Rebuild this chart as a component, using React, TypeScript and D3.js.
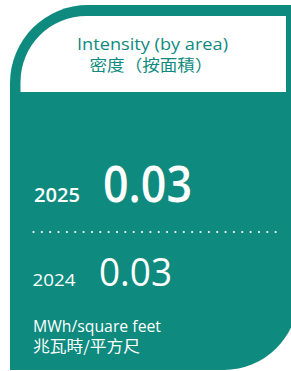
import React, { useEffect, useRef } from 'react';
import * as d3 from 'd3';

const W = 291;
const H = 371;

const titleLines = ['Intensity (by area)', '密度（按面積）'];
const years = ['2025', '2024'];
const values = [0.03, 0.03];
const unitLines = ['MWh/square feet', '兆瓦時/平方尺'];

const teal = '#0e8a7e';
const latin = '"Open Sans", "Noto Sans", sans-serif';
const cjk = '"Noto Sans CJK TC", "Noto Sans CJK SC", sans-serif';

export default function App() {
  const ref = useRef<SVGSVGElement | null>(null);

  useEffect(() => {
    const svg = d3.select(ref.current);
    svg.selectAll('*').remove();

    // card outline: big rounded top-left, rounded bottom-right (cropped at right)
    const x0 = 10, y0 = 5, x1 = 298, y1 = 370;
    const rTL = 78, rBR = 74;
    const outer = d3.path();
    outer.moveTo(x0, y0 + rTL);
    outer.arcTo(x0, y0, x0 + rTL, y0, rTL);
    outer.lineTo(x1, y0);
    outer.lineTo(x1, y1 - rBR);
    outer.arcTo(x1, y1, x1 - rBR, y1, rBR);
    outer.lineTo(x0, y1);
    outer.closePath();
    svg.append('path').attr('d', outer.toString()).attr('fill', teal);

    // white title panel
    const ix0 = 20.5, iy0 = 16, ix1 = 286, iy1 = 92, rIn = 66;
    const inner = d3.path();
    inner.moveTo(ix0, iy1);
    inner.lineTo(ix0, iy0 + rIn);
    inner.arcTo(ix0, iy0, ix0 + rIn, iy0, rIn);
    inner.lineTo(ix1, iy0);
    inner.lineTo(ix1, iy1);
    inner.closePath();
    svg.append('path').attr('d', inner.toString()).attr('fill', '#ffffff');

    const titleY = d3.scalePoint<string>().domain(titleLines).range([50, 70.5]);
    svg.selectAll('.title')
      .data(titleLines)
      .enter()
      .append('text')
      .attr('class', 'title')
      .attr('x', (d, i) => (i === 0 ? 152.5 : 151))
      .attr('y', d => titleY(d) as number)
      .attr('text-anchor', 'middle')
      .attr('fill', teal)
      .attr('font-family', (d, i) => (i === 0 ? latin : cjk))
      .attr('font-size', 16)
      .attr('textLength', (d, i) => (i === 0 ? 151 : 123))
      .attr('lengthAdjust', 'spacingAndGlyphs')
      .text(d => d);

    const fmt = d3.format('.2f');
    const rowY = d3.scalePoint<string>().domain(years).range([201.7, 286]);
    const yearStyle = [
      { x: 34, size: 19, weight: 600, len: 46 },
      { x: 32.5, size: 17, weight: 400, len: 43 },
    ];
    const valStyle = [
      { x: 103, size: 51, weight: 600, len: 89 },
      { x: 99, size: 38.5, weight: 400, len: 73 },
    ];

    svg.selectAll('.year')
      .data(years)
      .enter()
      .append('text')
      .attr('class', 'year')
      .attr('x', (d, i) => yearStyle[i].x)
      .attr('y', d => rowY(d) as number)
      .attr('fill', '#ffffff')
      .attr('font-family', latin)
      .attr('font-size', (d, i) => yearStyle[i].size)
      .attr('font-weight', (d, i) => yearStyle[i].weight)
      .attr('textLength', (d, i) => yearStyle[i].len)
      .attr('lengthAdjust', 'spacingAndGlyphs')
      .text(d => d);

    svg.selectAll('.value')
      .data(values)
      .enter()
      .append('text')
      .attr('class', 'value')
      .attr('x', (d, i) => valStyle[i].x)
      .attr('y', (d, i) => rowY(years[i]) as number)
      .attr('fill', '#ffffff')
      .attr('font-family', latin)
      .attr('font-size', (d, i) => valStyle[i].size)
      .attr('font-weight', (d, i) => valStyle[i].weight)
      .attr('textLength', (d, i) => valStyle[i].len)
      .attr('lengthAdjust', 'spacingAndGlyphs')
      .text(d => fmt(d));

    // dotted divider
    svg.append('line')
      .attr('x1', 33.5)
      .attr('x2', 278)
      .attr('y1', 232)
      .attr('y2', 232)
      .attr('stroke', '#ffffff')
      .attr('stroke-width', 2.2)
      .attr('stroke-linecap', 'round')
      .attr('stroke-dasharray', '0 8.35');

    const unitY = d3.scalePoint<string>().domain(unitLines).range([331.7, 352.3]);
    svg.selectAll('.unit')
      .data(unitLines)
      .enter()
      .append('text')
      .attr('class', 'unit')
      .attr('x', 33)
      .attr('y', d => unitY(d) as number)
      .attr('fill', '#ffffff')
      .attr('font-family', (d, i) => (i === 0 ? latin : cjk))
      .attr('font-size', 15.5)
      .attr('textLength', (d, i) => (i === 0 ? 128 : 107))
      .attr('lengthAdjust', 'spacingAndGlyphs')
      .text(d => d);
  }, []);

  return (
    <svg
      ref={ref}
      width={W}
      height={H}
      viewBox={`0 0 ${W} ${H}`}
      style={{ position: 'absolute', left: 0, top: 0, background: '#ffffff' }}
    />
  );
}
